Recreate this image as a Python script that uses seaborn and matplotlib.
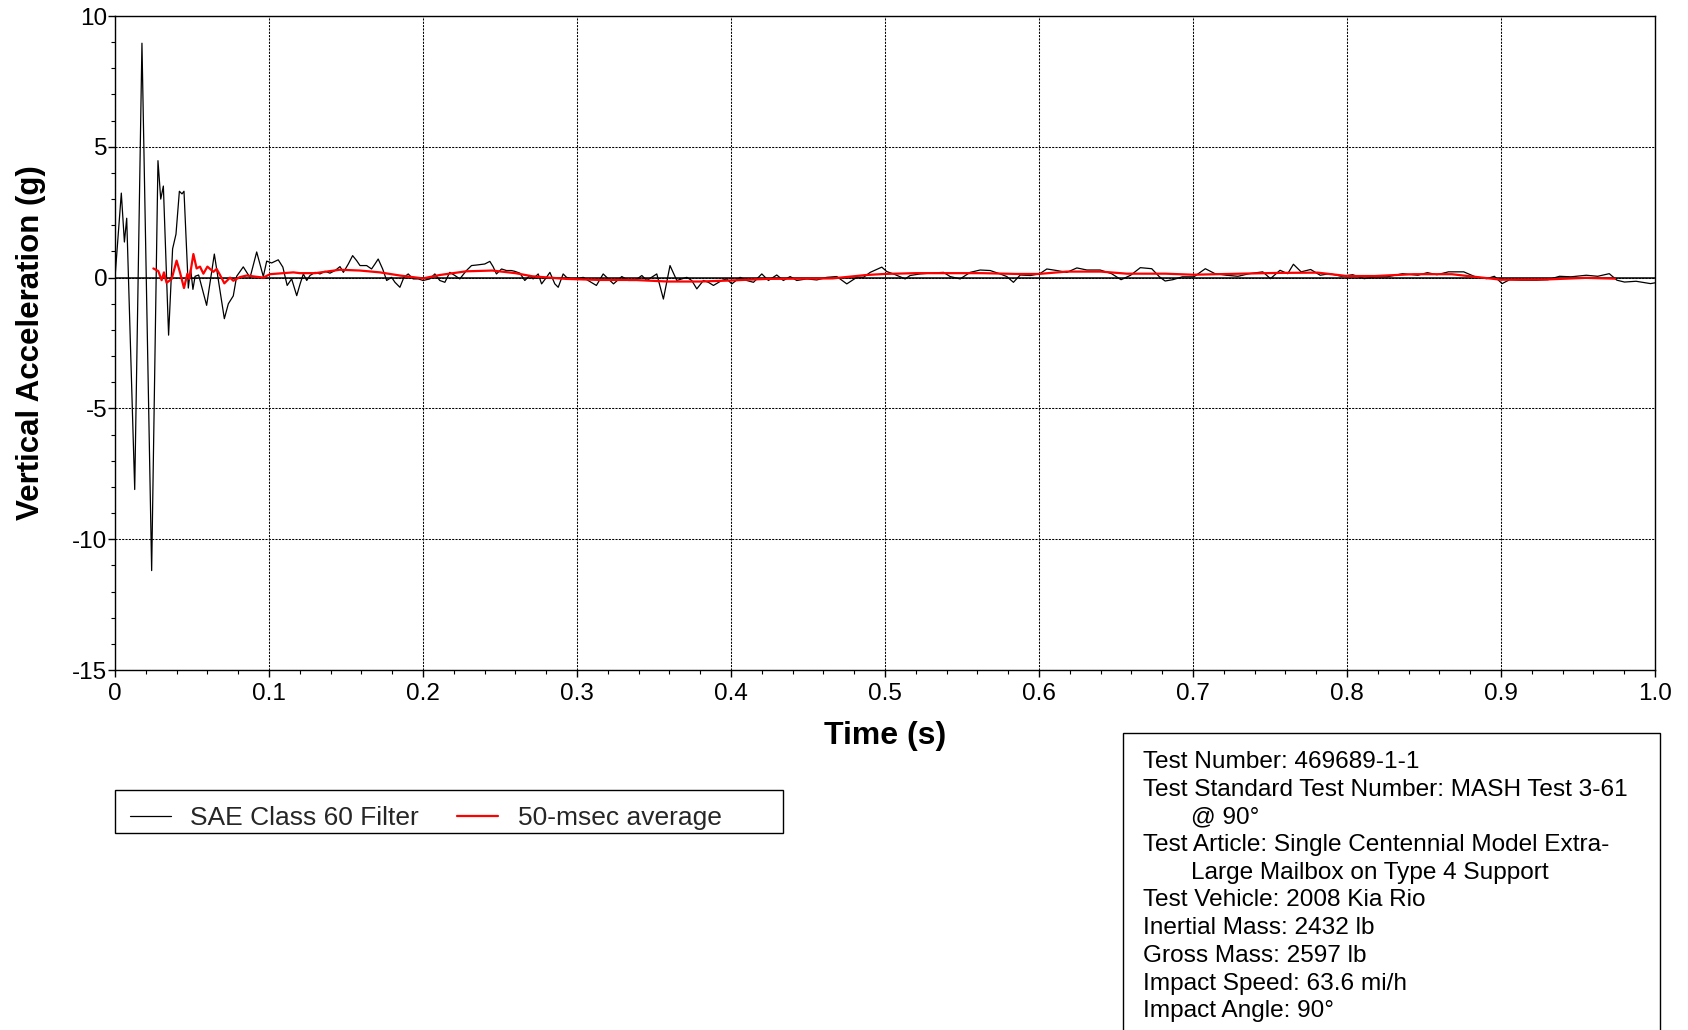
import matplotlib
matplotlib.use("Agg")
import matplotlib.pyplot as plt
import matplotlib.patches as mpatches
from matplotlib.lines import Line2D
from matplotlib.ticker import MultipleLocator
import seaborn as sns

# SAE Class 60 filtered signal (time in s, acceleration in g)
time_filter = [
    0.0000, 0.0041, 0.0061, 0.0076, 0.0128, 0.0175, 0.0238, 0.0279, 0.0297, 0.0314,
    0.0348, 0.0374, 0.0396, 0.0418, 0.0435, 0.0448, 0.0476, 0.0491, 0.0506, 0.0520,
    0.0543, 0.0595, 0.0645, 0.0710, 0.0736, 0.0768, 0.0790, 0.0833, 0.0877, 0.0920,
    0.0963, 0.0985, 0.1017, 0.1060, 0.1090, 0.1118, 0.1147, 0.1180, 0.1202, 0.1223,
    0.1245, 0.1266, 0.1299, 0.1331, 0.1364, 0.1396, 0.1429, 0.1461, 0.1483, 0.1515,
    0.1543, 0.1569, 0.1591, 0.1634, 0.1666, 0.1688, 0.1709, 0.1738, 0.1764, 0.1796,
    0.1818, 0.1850, 0.1876, 0.1904, 0.1936, 0.1969, 0.2001, 0.2044, 0.2077, 0.2109,
    0.2142, 0.2174, 0.2207, 0.2239, 0.2282, 0.2315, 0.2347, 0.2401, 0.2434, 0.2455,
    0.2477, 0.2510, 0.2542, 0.2574, 0.2596, 0.2629, 0.2661, 0.2694, 0.2715, 0.2748,
    0.2770, 0.2802, 0.2824, 0.2856, 0.2878, 0.2910, 0.2932, 0.2964, 0.3003, 0.3040,
    0.3072, 0.3126, 0.3170, 0.3237, 0.3291, 0.3334, 0.3377, 0.3421, 0.3453, 0.3518,
    0.3561, 0.3604, 0.3648, 0.3713, 0.3745, 0.3778, 0.3821, 0.3853, 0.3886, 0.3940,
    0.3972, 0.4005, 0.4059, 0.4102, 0.4146, 0.4200, 0.4243, 0.4297, 0.4340, 0.4384,
    0.4427, 0.4492, 0.4557, 0.4622, 0.4687, 0.4752, 0.4817, 0.4860, 0.4904, 0.4979,
    0.5012, 0.5055, 0.5131, 0.5163, 0.5228, 0.5293, 0.5380, 0.5423, 0.5488, 0.5553,
    0.5618, 0.5683, 0.5748, 0.5791, 0.5834, 0.5878, 0.5943, 0.6003, 0.6051, 0.6116,
    0.6181, 0.6246, 0.6311, 0.6397, 0.6471, 0.6533, 0.6595, 0.6658, 0.6732, 0.6782,
    0.6819, 0.6869, 0.6931, 0.7006, 0.7080, 0.7143, 0.7217, 0.7292, 0.7366, 0.7453,
    0.7503, 0.7565, 0.7615, 0.7652, 0.7702, 0.7764, 0.7826, 0.7888, 0.7963, 0.8037,
    0.8112, 0.8187, 0.8261, 0.8361, 0.8460, 0.8522, 0.8584, 0.8659, 0.8758, 0.8833,
    0.8907, 0.8957, 0.9007, 0.9056, 0.9131, 0.9230, 0.9305, 0.9380, 0.9454, 0.9554,
    0.9628, 0.9703, 0.9753, 0.9802, 0.9877, 0.9971, 1.0000,
]
accel_filter = [
    0.00, 3.23, 1.36, 2.27, -8.10, 8.96, -11.20, 4.47, 3.00, 3.50,
    -2.20, 1.10, 1.66, 3.30, 3.20, 3.30, -0.40, 0.34, -0.45, 0.05,
    0.10, -1.06, 0.90, -1.57, -1.00, -0.70, 0.05, 0.41, 0.00, 0.98,
    0.04, 0.63, 0.56, 0.68, 0.40, -0.30, -0.05, -0.69, -0.24, 0.14,
    -0.11, 0.08, 0.20, 0.14, 0.24, 0.17, 0.27, 0.42, 0.20, 0.52,
    0.84, 0.65, 0.46, 0.46, 0.33, 0.52, 0.71, 0.33, -0.11, 0.01,
    -0.18, -0.37, 0.01, 0.14, -0.05, -0.05, -0.11, -0.05, 0.14, -0.11,
    -0.18, 0.20, 0.08, -0.05, 0.27, 0.46, 0.48, 0.52, 0.62, 0.42,
    0.14, 0.33, 0.27, 0.27, 0.24, 0.17, -0.11, 0.08, -0.05, 0.14,
    -0.24, 0.01, 0.20, -0.24, -0.37, 0.14, 0.01, -0.05, -0.05, 0.01,
    -0.11, -0.30, 0.14, -0.24, 0.04, -0.11, -0.11, 0.08, -0.11, 0.14,
    -0.82, 0.46, -0.11, 0.01, -0.11, -0.43, -0.11, -0.18, -0.30, -0.11,
    -0.05, -0.24, 0.01, -0.11, -0.18, 0.14, -0.11, 0.10, -0.11, 0.04,
    -0.11, -0.05, -0.09, 0.01, 0.04, -0.24, 0.01, 0.01, 0.20, 0.40,
    0.23, 0.14, -0.05, 0.08, 0.14, 0.17, 0.20, 0.04, -0.05, 0.20,
    0.29, 0.27, 0.14, 0.04, -0.18, 0.10, 0.08, 0.14, 0.33, 0.27,
    0.20, 0.37, 0.29, 0.29, 0.15, -0.08, 0.09, 0.38, 0.34, 0.03,
    -0.13, -0.08, 0.03, 0.03, 0.34, 0.15, 0.09, 0.05, 0.15, 0.22,
    -0.04, 0.28, 0.15, 0.51, 0.22, 0.31, 0.09, 0.15, 0.05, 0.11,
    -0.04, 0.03, 0.03, 0.15, 0.09, 0.19, 0.11, 0.22, 0.22, 0.03,
    -0.04, 0.05, -0.23, -0.08, -0.10, -0.10, -0.08, 0.05, 0.03, 0.09,
    0.05, 0.15, -0.10, -0.17, -0.14, -0.23, -0.20,
]

# 50-msec moving average
time_avg = [
    0.0249, 0.0281, 0.0303, 0.0318, 0.0335, 0.0368, 0.0400, 0.0422, 0.0448, 0.0470,
    0.0483, 0.0509, 0.0530, 0.0552, 0.0574, 0.0600, 0.0639, 0.0660, 0.0682, 0.0710,
    0.0747, 0.0768, 0.0812, 0.0855, 0.0920, 0.0963, 0.1006, 0.1093, 0.1158, 0.1200,
    0.1300, 0.1460, 0.1590, 0.1720, 0.1850, 0.2000, 0.2110, 0.2280, 0.2450, 0.2600,
    0.2710, 0.2930, 0.3150, 0.3370, 0.3588, 0.3800, 0.4000, 0.4230, 0.4450, 0.4660,
    0.4880, 0.5000, 0.5200, 0.5410, 0.5630, 0.5850, 0.6000, 0.6180, 0.6400, 0.6570,
    0.6820, 0.7000, 0.7310, 0.7560, 0.7810, 0.8000, 0.8180, 0.8430, 0.8680, 0.8800,
    0.9000, 0.9300, 0.9550, 0.9740,
]
accel_avg = [
    0.35, 0.25, -0.10, 0.20, -0.20, -0.05, 0.65, 0.20, -0.40, 0.15,
    -0.05, 0.90, 0.35, 0.42, 0.15, 0.42, 0.22, 0.33, 0.10, -0.22,
    0.00, -0.12, 0.02, 0.08, 0.03, 0.00, 0.13, 0.17, 0.20, 0.17,
    0.17, 0.30, 0.27, 0.20, 0.08, -0.03, 0.10, 0.24, 0.27, 0.17,
    0.05, -0.05, -0.09, -0.09, -0.15, -0.15, -0.11, -0.05, -0.04, -0.03,
    0.10, 0.14, 0.17, 0.17, 0.17, 0.14, 0.14, 0.23, 0.23, 0.15,
    0.15, 0.11, 0.15, 0.18, 0.19, 0.06, 0.06, 0.13, 0.13, 0.05,
    -0.08, -0.07, -0.01, -0.04,
]

x_ticks = [0, 0.1, 0.2, 0.3, 0.4, 0.5, 0.6, 0.7, 0.8, 0.9, 1.0]
x_tick_labels = ["0", "0.1", "0.2", "0.3", "0.4", "0.5", "0.6", "0.7", "0.8", "0.9", "1.0"]
y_ticks = [-15, -10, -5, 0, 5, 10]

series_labels = ["SAE Class 60 Filter", "50-msec average"]

info_lines = [
    ("Test Number: 469689-1-1", False),
    ("Test Standard Test Number: MASH Test 3-61", False),
    ("@ 90°", True),
    ("Test Article: Single Centennial Model Extra-", False),
    ("Large Mailbox on Type 4 Support", True),
    ("Test Vehicle: 2008 Kia Rio", False),
    ("Inertial Mass: 2432 lb", False),
    ("Gross Mass: 2597 lb", False),
    ("Impact Speed: 63.6 mi/h", False),
    ("Impact Angle: 90°", False),
]

sns.set_theme(style="white")
plt.rcParams["font.family"] = ["Liberation Sans", "DejaVu Sans"]
plt.rcParams["axes.unicode_minus"] = False

W, H = 1688, 1030
fig = plt.figure(figsize=(W / 100, H / 100), dpi=100)
ax = fig.add_axes([115 / W, 1 - 670 / H, (1655 - 115) / W, (670 - 16) / H])

sns.lineplot(x=time_filter, y=accel_filter, ax=ax, color="black", linewidth=0.9,
             estimator=None, sort=False, zorder=3)
sns.lineplot(x=time_avg, y=accel_avg, ax=ax, color="#ff0000", linewidth=1.6,
             estimator=None, sort=False, zorder=4)

ax.axhline(0, color="black", linewidth=1.1, zorder=2)

ax.set_xlim(0, 1.0)
ax.set_ylim(-15, 10)
ax.set_xticks(x_ticks)
ax.set_xticklabels(x_tick_labels)
ax.set_yticks(y_ticks)
ax.xaxis.set_minor_locator(MultipleLocator(0.02))
ax.yaxis.set_minor_locator(MultipleLocator(1))
ax.tick_params(axis="both", which="major", direction="out", length=5, width=1,
               color="black", labelsize=17.5, pad=0.5, labelcolor="black")
ax.tick_params(axis="both", which="minor", direction="out", length=3, width=0.8,
               color="black")
ax.tick_params(axis="x", which="major", pad=4)
ax.tick_params(bottom=True, left=True, which="both")

ax.grid(True, which="major", color="black", linestyle=(0, (2, 1.2)), linewidth=0.75)
ax.set_axisbelow(True)
for s in ax.spines.values():
    s.set_color("black")
    s.set_linewidth(1)

ax.set_xlabel("Time (s)", fontsize=23, fontweight="bold", color="black", labelpad=12)
ax.set_ylabel("Vertical Acceleration (g)", fontsize=22.5, fontweight="bold", color="black")
ax.yaxis.set_label_coords(-(115 - 46) / (1655 - 115), 0.5)

# legend box
fig.patches.append(mpatches.Rectangle((115 / W, 1 - 833 / H), (783 - 115) / W, 43 / H,
                                      transform=fig.transFigure, facecolor="white",
                                      edgecolor="black", linewidth=1))
handles = [Line2D([], [], color="black", linewidth=0.9),
           Line2D([], [], color="#ff0000", linewidth=1.6)]
fig.legend(handles, series_labels, loc="center left",
           bbox_to_anchor=(106 / W, 1 - 818 / H), ncol=2, frameon=False,
           fontsize=19, handlelength=1.55, handletextpad=0.75, columnspacing=1.45)

# test information box
fig.patches.append(mpatches.Rectangle((1123 / W, -0.01), (1660 - 1123) / W, 0.01 + 1 - 733 / H,
                                      transform=fig.transFigure, facecolor="white",
                                      edgecolor="black", linewidth=1))
for i, (line, indent) in enumerate(info_lines):
    x0 = 1191 if indent else 1143
    fig.text(x0 / W, 1 - (762 + 27.7 * i) / H, line, fontsize=17.6, va="center",
             ha="left", color="black")

ax.get_legend() and ax.get_legend().remove()
fig.savefig("out.png", dpi=100)
